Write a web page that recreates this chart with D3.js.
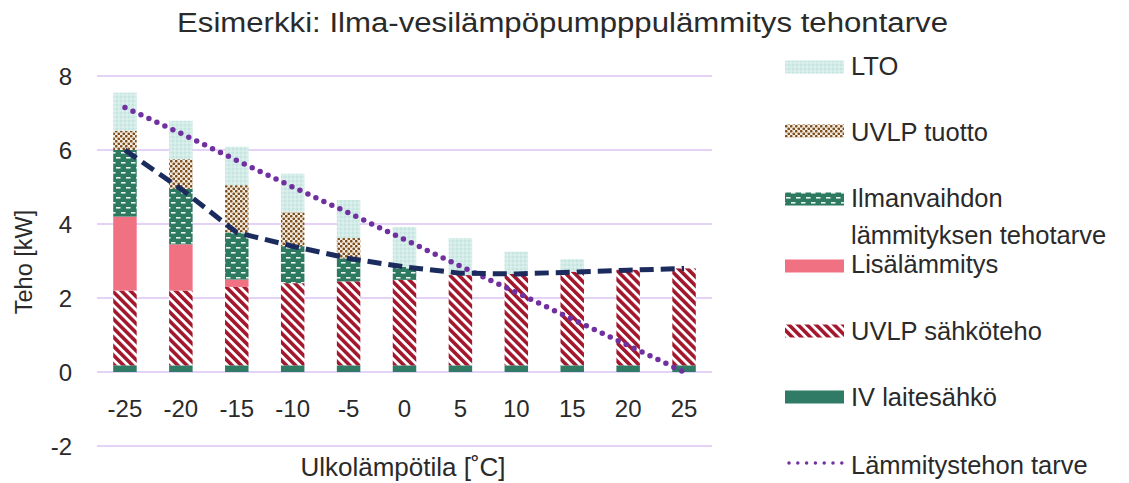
<!DOCTYPE html>
<html>
<head>
<meta charset="utf-8">
<script src="https://cdn.jsdelivr.net/npm/d3@7"></script>
<style>
  html, body { margin: 0; padding: 0; background: #fff; }
  svg { display: block; font-family: "Liberation Sans", Arial, sans-serif; }
</style>
</head>
<body>
<svg id="chart" width="1129" height="483"></svg>
<script>
// Outdoor temperatures (°C)
const temps = [-25, -20, -15, -10, -5, 0, 5, 10, 15, 20, 25];

// Stacked components, kW (bottom to top)
const ivLaitesahko   = [0.18, 0.18, 0.18, 0.18, 0.18, 0.18, 0.18, 0.18, 0.18, 0.18, 0.18];
const uvlpSahkoteho  = [2.02, 2.02, 2.12, 2.22, 2.27, 2.31, 2.44, 2.47, 2.53, 2.58, 2.62];
const lisalammitys   = [2.0, 1.25, 0.2, 0, 0, 0, 0, 0, 0, 0, 0];
const ilmanvaihto    = [1.8, 1.5, 1.27, 1.0, 0.62, 0.35, 0, 0, 0, 0, 0];
const uvlpTuotto     = [0.52, 0.8, 1.28, 0.92, 0.55, 0, 0, 0, 0, 0, 0];
const lto            = [1.03, 1.04, 1.04, 1.04, 1.03, 1.08, 1.0, 0.6, 0.34, 0, 0];

// Line series, kW
const tehontarveLine = [6.0, 4.95, 3.77, 3.4, 3.07, 2.84, 2.67, 2.65, 2.7, 2.75, 2.8];
const lammitystehonTarve = [7.15, 6.45, 5.72, 5.0, 4.3, 3.58, 2.86, 2.15, 1.43, 0.72, 0.0];

// Axis ticks
const yTicks = [-2, 0, 2, 4, 6, 8];

const seriesNames = ["IV laitesähkö", "UVLP sähköteho", "Lisälämmitys",
                     "Ilmanvaihdon lämmityksen tehotarve", "UVLP tuotto", "LTO"];
const seriesValues = [ivLaitesahko, uvlpSahkoteho, lisalammitys, ilmanvaihto, uvlpTuotto, lto];

const textColor = "#2a2a2a";
const svg = d3.select("#chart");
const defs = svg.append("defs");

// ---- fill patterns ----
// LTO: pale teal speckle
const pLto = defs.append("pattern").attr("id", "pLto")
  .attr("patternUnits", "userSpaceOnUse").attr("width", 4).attr("height", 4);
pLto.append("rect").attr("width", 4).attr("height", 4).attr("fill", "#d3ece8");
pLto.append("circle").attr("cx", 1).attr("cy", 1).attr("r", 0.8).attr("fill", "#b3ddd6");
pLto.append("circle").attr("cx", 3).attr("cy", 3).attr("r", 0.8).attr("fill", "#e6f5f3");

// UVLP tuotto: brown dots on white
const pTuotto = defs.append("pattern").attr("id", "pTuotto")
  .attr("patternUnits", "userSpaceOnUse").attr("width", 5).attr("height", 5);
pTuotto.append("rect").attr("width", 5).attr("height", 5).attr("fill", "#f3ece2");
pTuotto.append("circle").attr("cx", 1.25).attr("cy", 1.25).attr("r", 1.35).attr("fill", "#7d4f1e");
pTuotto.append("circle").attr("cx", 3.75).attr("cy", 3.75).attr("r", 1.35).attr("fill", "#7d4f1e");

// Ilmanvaihto: dark green with white dashes
const pIv = defs.append("pattern").attr("id", "pIlma")
  .attr("patternUnits", "userSpaceOnUse").attr("width", 10).attr("height", 10);
pIv.append("rect").attr("width", 10).attr("height", 10).attr("fill", "#2e7a61");
pIv.append("rect").attr("x", 1).attr("y", 2).attr("width", 4.5).attr("height", 1.6).attr("fill", "#e9f2ef");
pIv.append("rect").attr("x", 6).attr("y", 7).attr("width", 4.5).attr("height", 1.6).attr("fill", "#e9f2ef");
pIv.append("rect").attr("x", -4).attr("y", 7).attr("width", 4.5).attr("height", 1.6).attr("fill", "#e9f2ef");

// UVLP sähköteho: dark red diagonal stripes
const pSahko = defs.append("pattern").attr("id", "pSahko")
  .attr("patternUnits", "userSpaceOnUse").attr("width", 6.4).attr("height", 10)
  .attr("patternTransform", "rotate(-45)");
pSahko.append("rect").attr("width", 6.4).attr("height", 10).attr("fill", "#ffffff");
pSahko.append("rect").attr("width", 3.6).attr("height", 10).attr("fill", "#a3172d");

const fills = ["#2f7b66", "url(#pSahko)", "#ef7182", "url(#pIlma)", "url(#pTuotto)", "url(#pLto)"];

// ---- scales ----
const x = d3.scaleBand().domain(temps).range([97, 712]).paddingInner(0.58).paddingOuter(0.29);
const y = d3.scaleLinear().domain([-2, 8]).range([446, 76]);

// ---- gridlines ----
svg.append("g").selectAll("line").data(yTicks).join("line")
  .attr("x1", 97).attr("x2", 712)
  .attr("y1", d => y(d)).attr("y2", d => y(d))
  .attr("stroke", "#dcc4f4").attr("stroke-width", 1.5);

// ---- y tick labels ----
svg.append("g").selectAll("text").data(yTicks).join("text")
  .attr("x", 72).attr("y", d => y(d))
  .attr("text-anchor", "end").attr("dominant-baseline", "central")
  .attr("font-size", 24).attr("fill", textColor)
  .text(d => d);

// ---- x tick labels ----
svg.append("g").selectAll("text").data(temps).join("text")
  .attr("x", d => x(d) + x.bandwidth() / 2).attr("y", 408)
  .attr("text-anchor", "middle").attr("dominant-baseline", "central")
  .attr("font-size", 24).attr("fill", textColor)
  .text(d => d);

// ---- stacked bars ----
const rows = temps.map((t, i) => {
  const r = { t };
  seriesNames.forEach((n, k) => r[n] = seriesValues[k][i]);
  return r;
});
const stack = d3.stack().keys(seriesNames)(rows);
svg.append("g").selectAll("g").data(stack).join("g")
  .attr("fill", (d, i) => fills[i])
  .selectAll("rect").data(d => d).join("rect")
  .attr("x", d => x(d.data.t))
  .attr("width", x.bandwidth())
  .attr("y", d => y(d[1]))
  .attr("height", d => Math.max(0, y(d[0]) - y(d[1])));

// ---- lines ----
const line = d3.line()
  .x((d, i) => x(temps[i]) + x.bandwidth() / 2)
  .y(d => y(d));

svg.append("path").datum(lammitystehonTarve)
  .attr("d", line).attr("fill", "none")
  .attr("stroke", "#7030a0").attr("stroke-width", 5.5)
  .attr("stroke-linecap", "round").attr("stroke-dasharray", "0 8.8");

svg.append("path").datum(tehontarveLine)
  .attr("d", line).attr("fill", "none")
  .attr("stroke", "#1b2b5e").attr("stroke-width", 5)
  .attr("stroke-dasharray", "14 7");

// ---- title & axis titles ----
svg.append("text").attr("x", 177).attr("y", 32)
  .attr("font-size", 27).attr("fill", textColor)
  .attr("textLength", 771).attr("lengthAdjust", "spacingAndGlyphs")
  .text("Esimerkki: Ilma-vesilämpöpumpppulämmitys tehontarve");

svg.append("text").attr("x", 403).attr("y", 467)
  .attr("text-anchor", "middle").attr("dominant-baseline", "central")
  .attr("font-size", 26).attr("fill", textColor)
  .text("Ulkolämpötila [˚C]");

svg.append("text")
  .attr("transform", "translate(24,262) rotate(-90)")
  .attr("text-anchor", "middle").attr("dominant-baseline", "central")
  .attr("font-size", 23.5).attr("fill", textColor)
  .text("Teho [kW]");

// ---- legend ----
const legendItems = [
  { lines: ["LTO"], fill: "url(#pLto)", y: 67, textY: [66] },
  { lines: ["UVLP tuotto"], fill: "url(#pTuotto)", y: 131, textY: [132] },
  { lines: ["Ilmanvaihdon", "lämmityksen tehotarve"], fill: "url(#pIlma)", y: 199, textY: [198, 235] },
  { lines: ["Lisälämmitys"], fill: "#ef7182", y: 266, textY: [264] },
  { lines: ["UVLP sähköteho"], fill: "url(#pSahko)", y: 331, textY: [331] },
  { lines: ["IV laitesähkö"], fill: "#2f7b66", y: 397, textY: [397] },
  { lines: ["Lämmitystehon tarve"], dotted: true, y: 463, textY: [465] }
];
const lg = svg.append("g");
legendItems.forEach(it => {
  if (it.dotted) {
    lg.append("line").attr("x1", 789).attr("x2", 842).attr("y1", it.y).attr("y2", it.y)
      .attr("stroke", "#7030a0").attr("stroke-width", 3.5)
      .attr("stroke-linecap", "round").attr("stroke-dasharray", "0 8.8");
  } else {
    lg.append("rect").attr("x", 785).attr("y", it.y - 6.5).attr("width", 59).attr("height", 13)
      .attr("fill", it.fill);
  }
  it.lines.forEach((s, j) => {
    lg.append("text").attr("x", 851).attr("y", it.textY[j])
      .attr("dominant-baseline", "central")
      .attr("font-size", 25.5).attr("fill", textColor)
      .text(s);
  });
});
</script>
</body>
</html>
